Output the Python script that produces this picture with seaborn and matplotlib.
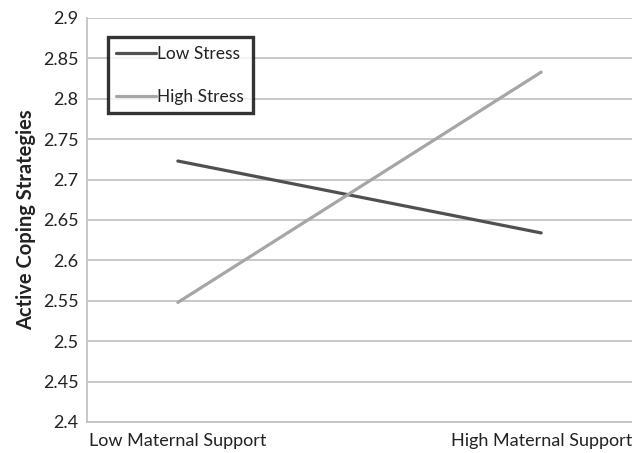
import numpy as np
import pandas as pd
import matplotlib
matplotlib.use("Agg")
import matplotlib.pyplot as plt
import seaborn as sns

# data
support = ["Low Maternal Support", "High Maternal Support"]
low_stress = [2.723, 2.634]
high_stress = [2.548, 2.833]

df = pd.DataFrame({
    "pos": [0, 1, 0, 1],
    "value": low_stress + high_stress,
    "group": ["Low Stress"] * 2 + ["High Stress"] * 2,
})

sns.set_style("white")
plt.rcParams["font.family"] = ["Lato", "DejaVu Sans"]

fig = plt.figure(figsize=(6.32, 4.53), dpi=100)
ax = fig.add_axes([87 / 632, 31 / 453, 545 / 632, 404 / 453])

sns.lineplot(data=df, x="pos", y="value", hue="group",
             palette={"Low Stress": "#505050", "High Stress": "#a6a6a6"},
             linewidth=2.3, ax=ax)

ax.set_xlim(-0.25, 1.25)
ax.set_ylim(2.4, 2.9)
yt = np.round(np.arange(2.4, 2.901, 0.05), 2)
ax.set_yticks(yt)
ax.set_yticklabels([f"{v:g}" for v in yt])
ax.set_xticks([0, 1])
ax.set_xticklabels(support)
ax.tick_params(axis="both", labelsize=13, colors="#222222", length=0, pad=6)
ax.tick_params(axis="x", pad=8)
ax.grid(axis="y", color="#c4c4c4", linewidth=1.3)
ax.set_axisbelow(True)
for s in ["top", "right"]:
    ax.spines[s].set_visible(False)
for s in ["left", "bottom"]:
    ax.spines[s].set_color("#c4c4c4")
    ax.spines[s].set_linewidth(1.3)

ax.set_xlabel("")
ax.set_ylabel("Active Coping Strategies", fontsize=14.5, fontweight="bold",
              color="#222222", labelpad=5)

leg = ax.legend(loc="upper left", bbox_to_anchor=(0.038, 0.953), fontsize=12.5,
                frameon=True, fancybox=False, handlelength=2.3, handletextpad=0.05,
                borderpad=0.5, borderaxespad=0.0, labelspacing=1.55)
leg.get_frame().set_edgecolor("black")
leg.get_frame().set_linewidth(2.4)
for t in leg.get_texts():
    t.set_color("#222222")

fig.savefig("out.png", dpi=100)
